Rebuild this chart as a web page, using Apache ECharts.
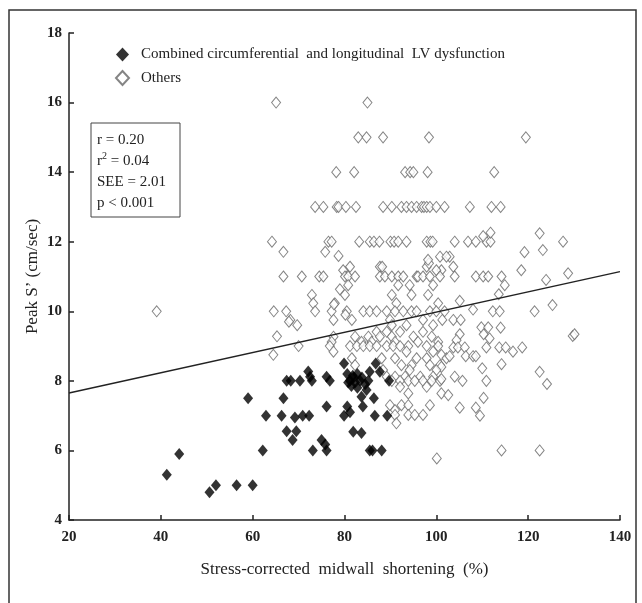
<!DOCTYPE html>
<html>
<head>
<meta charset="utf-8">
<script src="https://cdn.jsdelivr.net/npm/echarts@6/dist/echarts.min.js"></script>
<style>
  html, body { margin: 0; padding: 0; background: #fff; }
  #chart { width: 642px; height: 603px; }
</style>
</head>
<body>
<div id="chart"></div>
<script>
const FONT = '"Liberation Serif", "Times New Roman", serif'

// axis ticks
const xTicks = [20, 40, 60, 80, 100, 120, 140]
const yTicks = [4, 6, 8, 10, 12, 14, 16, 18]

// regression line end points
const fitX = [20, 140]
const fitY = [7.65, 11.14]

// combined circumferential and longitudinal LV dysfunction
const combined = [
  [41.3, 5.3], [44, 5.9], [50.6, 4.8], [52, 5.0], [56.5, 5.0], [60, 5.0],
  [59, 7.5], [62.2, 6.0], [62.9, 7.0],
  [66.3, 7.0], [66.7, 7.5], [67.4, 8.0], [68.3, 8.0], [70.3, 8.0],
  [67.4, 6.55], [69.5, 6.55], [68.7, 6.3],
  [69.2, 6.95], [70.9, 7.0], [72.3, 7.0],
  [72.1, 8.27], [72.5, 8.12], [72.9, 8.0],
  [73.1, 6.0], [75.0, 6.3], [75.8, 6.17], [76.1, 6.0],
  [76.1, 7.26], [76.1, 8.12], [76.8, 8.0],
  [79.9, 8.5], [79.9, 7.0], [80.6, 7.26], [81.2, 7.1],
  [80.6, 8.2], [81.2, 8.0], [81.8, 8.15], [82.3, 7.95], [82.8, 8.2], [83.4, 8.0],
  [81.5, 7.85], [82.8, 7.8], [83.8, 8.1], [84.5, 7.9], [85.2, 8.0], [80.8, 7.95], [82.0, 8.1],
  [85.5, 8.26], [87.7, 8.26], [86.8, 8.5],
  [84.8, 7.74], [83.7, 7.54], [86.4, 7.5],
  [84.0, 7.26], [86.6, 7.0],
  [81.9, 6.54], [83.7, 6.5],
  [85.5, 6.0], [86.1, 6.0], [88.1, 6.0],
  [89.3, 7.0], [89.7, 8.0]
]

// all other patients
const others = [
  [65.1, 16], [85.0, 16],
  [83.0, 15], [84.8, 15], [88.4, 15], [98.4, 15], [119.5, 15],
  [78.2, 14], [82.1, 14], [93.2, 14], [94.3, 14], [95.0, 14], [98.1, 14], [112.6, 14],
  [73.6, 13], [75.4, 13], [78.3, 13], [78.7, 13], [80.3, 13], [82.5, 13], [88.4, 13],
  [90.3, 13], [92.4, 13], [93.5, 13], [94.6, 13], [95.7, 13], [96.8, 13], [97.3, 13],
  [97.9, 13], [98.6, 13], [100, 13], [101.8, 13], [107.3, 13], [112, 13], [114, 13],
  [64.2, 12], [76.5, 12], [77.2, 12], [83.2, 12], [85.5, 12], [86.4, 12], [87.6, 12],
  [90, 12], [90.8, 12], [91.7, 12], [93.5, 12], [97.9, 12], [98.7, 12], [99.2, 12],
  [104, 12], [106.9, 12], [108.6, 12], [110.9, 12], [111.8, 12], [127.6, 12],
  [110.2, 12.16], [111.8, 12.26], [122.5, 12.24], [66.7, 11.71], [75.8, 11.71],
  [78.7, 11.59], [119.2, 11.7], [123.2, 11.76], [100.8, 11.57], [102.9, 11.57],
  [103.7, 11.28], [118.5, 11.18], [128.7, 11.09], [101.1, 11.18], [87.7, 11.28],
  [88.2, 11.28], [81.2, 11.28], [79.7, 11.18], [97.9, 11.28], [98.4, 11.38],
  [100, 11.18], [102.2, 11.57], [98.2, 11.48],
  [66.7, 11], [70.7, 11], [74.5, 11], [75.4, 11], [80.1, 11], [80.8, 11], [82.3, 11],
  [87.7, 11], [88.8, 11], [90.3, 11], [91.7, 11], [92.8, 11], [95.7, 11], [96.0, 11],
  [97.1, 11], [98.6, 11], [100.8, 11], [104, 11], [108.6, 11], [110.2, 11], [111.3, 11],
  [114.2, 11], [123.9, 10.9],
  [80.8, 10.75], [91.7, 10.75], [94.2, 10.75], [99.3, 10.75], [114.9, 10.75], [79, 10.63],
  [72.9, 10.47], [80.1, 10.47], [90.3, 10.47], [94.6, 10.47], [98.2, 10.47], [113.6, 10.49],
  [73.2, 10.23], [77.9, 10.23], [91.3, 10.23], [100.4, 10.23], [105.1, 10.3], [125.3, 10.18],
  [39.1, 10], [64.6, 10], [67.3, 10], [73.6, 10], [77.2, 10], [80.5, 10], [84.1, 10],
  [85.5, 10], [87, 10], [89.2, 10], [91, 10], [92.8, 10], [94.6, 10], [95.7, 10],
  [98.6, 10], [100, 10], [101.8, 10], [108, 10.05], [112.3, 10], [113.8, 10], [121.4, 10],
  [80.2, 9.9], [77.7, 10.2],
  [68.2, 9.75], [77.6, 9.75], [81.6, 9.75], [89.9, 9.75], [97.1, 9.75], [67.9, 9.7],
  [101.3, 9.75], [103.7, 9.75], [105.3, 9.75],
  [69.7, 9.6], [90.3, 9.6], [93.5, 9.6], [99.3, 9.6], [109.8, 9.54], [111.3, 9.54], [114, 9.53],
  [87, 9.41], [89.2, 9.41], [92.1, 9.41], [97.1, 9.41], [105.1, 9.34], [110.3, 9.34],
  [65.3, 9.28], [77.6, 9.27], [82.3, 9.27], [85.2, 9.27], [87.7, 9.27], [90.3, 9.27],
  [95, 9.27], [99, 9.27], [129.7, 9.29], [130.1, 9.34],
  [77.2, 9.12], [83.7, 9.12], [85.9, 9.12], [91, 9.12], [96, 9.12], [100.4, 9.12],
  [111.6, 9.22], [104.4, 9.17],
  [70, 9], [76.8, 9], [81.2, 9], [82.7, 9], [84.1, 9], [85.5, 9], [87, 9], [89.2, 9],
  [90.6, 9], [92.1, 9], [93.9, 9], [97.9, 9], [100.4, 9], [103.7, 8.96], [104.7, 8.96],
  [106.2, 8.96], [110.9, 8.96], [113.7, 8.96], [115.1, 8.96], [118.7, 8.96],
  [77.6, 8.84], [93.5, 8.84], [99.3, 8.84], [116.7, 8.84], [64.5, 8.75], [101.1, 8.75],
  [81.6, 8.65], [88.1, 8.65], [91, 8.65], [95.7, 8.65], [97.9, 8.65], [102.2, 8.65],
  [102.9, 8.71], [106.4, 8.71], [108, 8.71], [108.6, 8.71],
  [82.3, 8.45], [92.4, 8.45], [94.6, 8.45], [98.6, 8.45], [100.8, 8.45], [114.2, 8.48],
  [101.1, 8.4], [110, 8.36],
  [88.4, 8.31], [94.2, 8.31], [100, 8.31], [122.5, 8.26],
  [89.2, 8.12], [91, 8.12], [93.2, 8.12], [96.5, 8.12], [99.3, 8.12], [104, 8.12],
  [90.3, 8], [92.1, 8], [93.9, 8], [95.3, 8], [97.1, 8], [99, 8], [100.8, 8], [101.1, 8.05],
  [105.7, 8], [110.9, 8], [124.1, 7.91],
  [92.1, 7.83], [97.9, 7.83], [93.9, 7.64], [101.1, 7.64], [102.6, 7.59], [110.3, 7.51],
  [89.9, 7.3], [92.4, 7.3], [93.9, 7.3], [98.6, 7.3], [105.1, 7.23], [108.6, 7.23],
  [91, 7.16], [91, 7.02], [93.9, 7.02], [95.3, 7.02], [97.1, 7.02], [109.5, 7],
  [91.3, 6.78],
  [114.2, 6], [122.5, 6], [100.1, 5.77]
]

const chart = echarts.init(document.getElementById('chart'), null, { renderer: 'canvas' })

const axisCommon = {
  axisLine: { onZero: false, lineStyle: { color: '#222', width: 1.5 } },
  axisTick: { inside: true, length: 5, lineStyle: { color: '#222', width: 1.5 } },
  splitLine: { show: false },
  axisLabel: { color: '#222', fontFamily: FONT, fontSize: 15, fontWeight: 'bold' },
  nameTextStyle: { color: '#222', fontFamily: FONT, fontSize: 17 }
}

const option = {
  backgroundColor: '#fff',
  animation: false,
  grid: { left: 69, right: 22, top: 33, bottom: 83 },
  legend: {
    data: ['Combined circumferential  and longitudinal  LV dysfunction', 'Others'],
    orient: 'vertical',
    left: 110,
    top: 42,
    itemWidth: 13,
    itemHeight: 14,
    itemGap: 8,
    textStyle: { color: '#222', fontFamily: FONT, fontSize: 15, padding: [0, 0, 0, 7] }
  },
  xAxis: Object.assign({}, axisCommon, {
    type: 'value',
    min: xTicks[0],
    max: xTicks[xTicks.length - 1],
    interval: 20,
    name: 'Stress-corrected  midwall  shortening  (%)',
    nameLocation: 'middle',
    nameGap: 41,
    axisLabel: Object.assign({}, axisCommon.axisLabel, { margin: 10 })
  }),
  yAxis: Object.assign({}, axisCommon, {
    type: 'value',
    min: yTicks[0],
    max: yTicks[yTicks.length - 1],
    interval: 2,
    name: 'Peak S\u2019 (cm/sec)',
    nameLocation: 'middle',
    nameGap: 28,
    nameMoveOverlap: false,
    axisLabel: Object.assign({}, axisCommon.axisLabel, { margin: 7 })
  }),
  series: [
    {
      name: 'Others',
      type: 'scatter',
      symbol: 'diamond',
      symbolSize: [9, 11],
      itemStyle: { color: '#fff', borderColor: '#666', borderWidth: 1 },
      data: others,
      z: 2
    },
    {
      name: 'Combined circumferential  and longitudinal  LV dysfunction',
      type: 'scatter',
      symbol: 'diamond',
      symbolSize: [10, 12],
      itemStyle: { color: '#000' },
      data: combined,
      z: 3
    },
    {
      name: 'fit',
      type: 'line',
      symbol: 'none',
      silent: true,
      lineStyle: { color: '#222', width: 1.5 },
      data: fitX.map((x, i) => [x, fitY[i]]),
      z: 4
    }
  ],
  graphic: [
    {
      type: 'rect',
      shape: { x: 9, y: 10, width: 627, height: 620 },
      style: { fill: 'none', stroke: '#333', lineWidth: 1.5 },
      silent: true
    },
    {
      type: 'rect',
      shape: { x: 91, y: 123, width: 89, height: 94 },
      style: { fill: '#fff', stroke: '#444', lineWidth: 1 },
      z: 10
    },
    {
      type: 'text', x: 97, y: 140, z: 11,
      style: { text: 'r = 0.20', font: '15px ' + FONT, fill: '#222', verticalAlign: 'middle' }
    },
    {
      type: 'text', x: 97, y: 161, z: 11,
      style: { text: 'r', font: '15px ' + FONT, fill: '#222', verticalAlign: 'middle' }
    },
    {
      type: 'text', x: 102, y: 156, z: 11,
      style: { text: '2', font: '10px ' + FONT, fill: '#222', verticalAlign: 'middle' }
    },
    {
      type: 'text', x: 107, y: 161, z: 11,
      style: { text: ' = 0.04', font: '15px ' + FONT, fill: '#222', verticalAlign: 'middle' }
    },
    {
      type: 'text', x: 97, y: 182, z: 11,
      style: { text: 'SEE = 2.01', font: '15px ' + FONT, fill: '#222', verticalAlign: 'middle' }
    },
    {
      type: 'text', x: 97, y: 203, z: 11,
      style: { text: 'p < 0.001', font: '15px ' + FONT, fill: '#222', verticalAlign: 'middle' }
    }
  ]
}

chart.setOption(option)
</script>
</body>
</html>
